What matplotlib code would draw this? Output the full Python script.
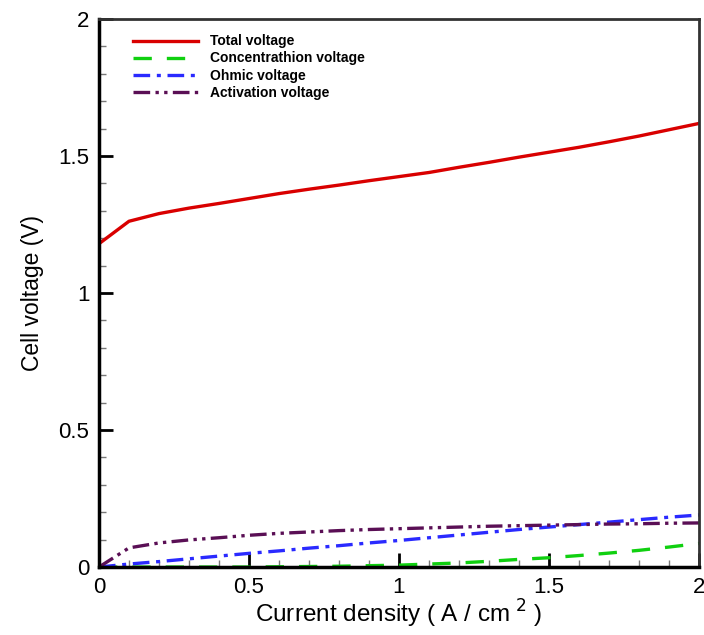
import numpy as np
import matplotlib
matplotlib.use('Agg')
import matplotlib.pyplot as plt
from matplotlib.ticker import MultipleLocator

plt.rcParams['font.family'] = ['Liberation Sans', 'DejaVu Sans']

current = [0.0, 0.1, 0.2, 0.3, 0.4, 0.5, 0.6, 0.7, 0.8, 0.9, 1.0,
           1.1, 1.2, 1.3, 1.4, 1.5, 1.6, 1.7, 1.8, 1.9, 2.0]
total_v = [1.180, 1.262, 1.290, 1.310, 1.327, 1.345, 1.363, 1.379, 1.394, 1.410, 1.425,
           1.440, 1.459, 1.477, 1.496, 1.514, 1.532, 1.552, 1.573, 1.596, 1.619]
conc_v = [0.0, 0.0, 0.0, 0.0, 0.0, 0.0, 0.001, 0.002, 0.003, 0.005, 0.007,
          0.011, 0.015, 0.021, 0.028, 0.034, 0.042, 0.051, 0.061, 0.073, 0.086]
ohmic_v = [0.0, 0.011, 0.020, 0.030, 0.040, 0.050, 0.059, 0.069, 0.078, 0.088, 0.097,
           0.107, 0.117, 0.127, 0.137, 0.146, 0.155, 0.164, 0.173, 0.182, 0.190]
act_v = [0.0, 0.070, 0.088, 0.099, 0.107, 0.116, 0.123, 0.128, 0.133, 0.137, 0.140,
         0.143, 0.146, 0.149, 0.151, 0.153, 0.155, 0.157, 0.158, 0.160, 0.161]

fig = plt.figure(figsize=(7.04, 6.35), dpi=100)
ax = fig.add_axes([0.1406, 0.107, 0.8523, 0.863])

lw = 2.4
ax.plot(current, total_v, color='#d90000', lw=lw, label='Total voltage')
ax.plot(current, conc_v, color='#10d010', lw=lw, dashes=(5.5, 4.5), label='Concentrathion voltage')
ax.plot(current, ohmic_v, color='#2a2aff', lw=lw, dashes=(5, 2, 1.2, 2), label='Ohmic voltage')
ax.plot(current, act_v, color='#5a0f55', lw=lw, dashes=(5, 1.6, 1, 1.6, 1, 1.6), label='Activation voltage')

ax.set_xlim(0, 2)
ax.set_ylim(0, 2)
ax.xaxis.set_minor_locator(MultipleLocator(0.1))
ax.yaxis.set_minor_locator(MultipleLocator(0.1))
ax.set_xticks([0, 0.5, 1, 1.5, 2])
ax.set_xticklabels(['0', '0.5', '1', '1.5', '2'])
ax.set_yticks([0, 0.5, 1, 1.5, 2])
ax.set_yticklabels(['0', '0.5', '1', '1.5', '2'])
ax.tick_params(which='major', direction='in', length=10, width=2, labelsize=16, pad=7,
               top=False, right=False)
ax.tick_params(which='minor', direction='in', length=5, width=1, color='#777777',
               top=False, right=False)

for side in ['left', 'bottom']:
    ax.spines[side].set_linewidth(2.5)
for side in ['top', 'right']:
    ax.spines[side].set_linewidth(2)
    ax.spines[side].set_color('#333333')

ax.set_xlabel('Current density ( A / cm$^{\\ 2}$ )', fontsize=17.5, labelpad=0)
ax.set_ylabel('Cell voltage (V)', fontsize=16.5, labelpad=10)

ax.legend(loc='upper left', bbox_to_anchor=(0.057, 0.972), frameon=False,
          prop={'weight': 'bold', 'size': 10}, handlelength=4.7, handletextpad=0.8,
          labelspacing=0.22, borderpad=0, borderaxespad=0)

fig.savefig('out.png', dpi=100)
